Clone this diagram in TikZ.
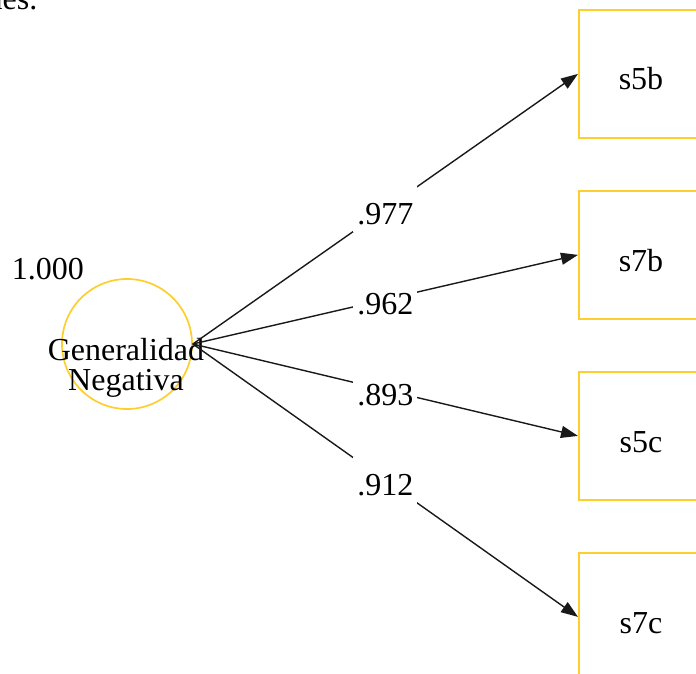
\documentclass[tikz,border=0pt]{standalone}
\usepackage{fontspec}
\setmainfont{Liberation Serif}
\usetikzlibrary{arrows.meta}
\definecolor{boxgold}{RGB}{253,206,45}
\begin{document}
\begin{tikzpicture}[x=1pt,y=-1pt,
  txt/.style={font=\fontsize{32}{30}\selectfont, inner sep=0pt},
  ind/.style={draw=boxgold, line width=1.8pt, minimum width=128pt,
    minimum height=128pt, inner sep=0pt, anchor=north west},
  lat/.style={circle, draw=boxgold, line width=1.7pt, minimum size=130pt, inner sep=0pt},
  conn/.style={draw=black!90, line width=1.4pt, -{Triangle[length=17pt,width=12pt]}},
  coef/.style={txt, fill=white, inner xsep=4pt, inner ysep=0pt,
    text height=39pt, text depth=8pt, pos=0.5}]
\useasboundingbox (0,0) rectangle (696,674);

% tail of the caption line above
\node[txt, anchor=base east] (caption) at (37.5,10) {nes.};

% latent factor
\node[lat] (gn) at (127,344) {};
\node[txt, align=center] (gntext) at (126,368) {Generalidad\\Negativa};
\node[txt, anchor=base] (gnvar) at (48,279) {1.000};

% observed indicators
\node[ind] (s5b) at (578,9) {};
\node[ind] (s7b) at (578,190) {};
\node[ind] (s5c) at (578,371) {};
\node[ind] (s7c) at (578,552) {};
\node[txt, anchor=base] (s5bt) at (641,90)  {s5b};
\node[txt, anchor=base] (s7bt) at (641,271) {s7b};
\node[txt, anchor=base] (s5ct) at (641,452) {s5c};
\node[txt, anchor=base] (s7ct) at (641,633) {s7c};

% loadings
\draw[conn] (gn.east) -- node[coef] {.977} (s5b.west);
\draw[conn] (gn.east) -- node[coef] {.962} (s7b.west);
\draw[conn] (gn.east) -- node[coef] {.893} (s5c.west);
\draw[conn] (gn.east) -- node[coef] {.912} (s7c.west);
\end{tikzpicture}
\end{document}
